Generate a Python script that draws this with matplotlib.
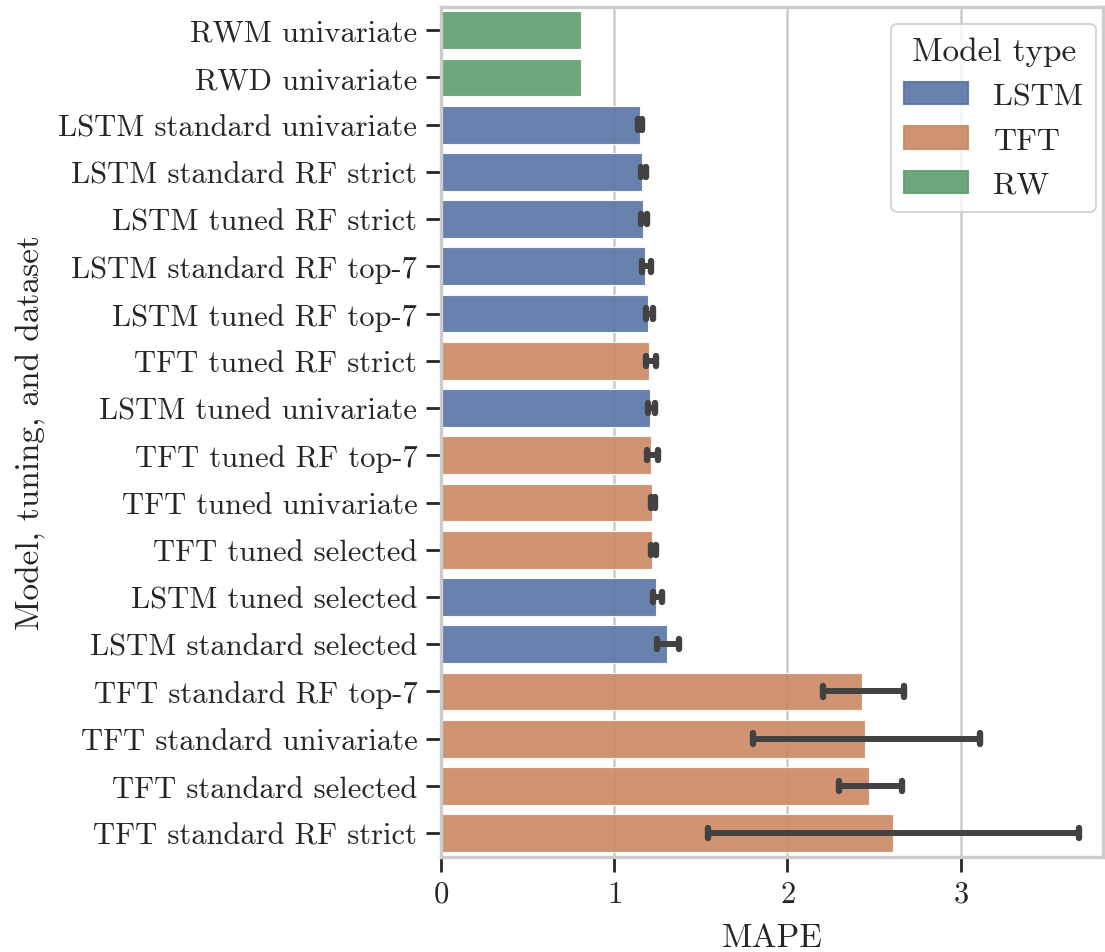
import numpy as np
import matplotlib
matplotlib.use("Agg")
import matplotlib.pyplot as plt
import seaborn as sns

labels = ["RWM univariate", "RWD univariate", "LSTM standard univariate",
          "LSTM standard RF strict", "LSTM tuned RF strict", "LSTM standard RF top-7",
          "LSTM tuned RF top-7", "TFT tuned RF strict", "LSTM tuned univariate",
          "TFT tuned RF top-7", "TFT tuned univariate", "TFT tuned selected",
          "LSTM tuned selected", "LSTM standard selected", "TFT standard RF top-7",
          "TFT standard univariate", "TFT standard selected", "TFT standard RF strict"]
model_type = ["RW", "RW", "LSTM", "LSTM", "LSTM", "LSTM", "LSTM", "TFT", "LSTM",
              "TFT", "TFT", "TFT", "LSTM", "LSTM", "TFT", "TFT", "TFT", "TFT"]
mape = [0.806, 0.806, 1.148, 1.161, 1.165, 1.178, 1.194, 1.203, 1.207,
        1.213, 1.217, 1.219, 1.242, 1.305, 2.432, 2.449, 2.469, 2.608]
ci_low = [np.nan, np.nan, 1.140, 1.153, 1.153, 1.161, 1.183, 1.185, 1.195,
          1.190, 1.215, 1.210, 1.223, 1.248, 2.203, 1.799, 2.295, 1.543]
ci_high = [np.nan, np.nan, 1.163, 1.184, 1.192, 1.213, 1.223, 1.242, 1.236,
           1.253, 1.235, 1.244, 1.275, 1.377, 2.675, 3.112, 2.660, 3.685]
hue_order = ["LSTM", "TFT", "RW"]

sns.set_theme(style="whitegrid", context="talk")
plt.rcParams.update({
    "font.family": "serif",
    "font.serif": ["cmr10", "DejaVu Serif"],
    "mathtext.fontset": "cm",
    "axes.formatter.use_mathtext": True,
    "axes.unicode_minus": False,
    "xtick.bottom": True,
    "ytick.left": True,
})

pal = dict(zip(hue_order, sns.color_palette("deep", 3, desat=0.75)))

fig, ax = plt.subplots(figsize=(11.05, 9.53), dpi=100)
y = np.arange(len(labels))
ax.barh(y, mape, height=0.8, color=[pal[m] for m in model_type], alpha=0.9,
        edgecolor="white", linewidth=0.8, zorder=2)

# confidence intervals with rounded caps
ecol = "#424242"
for yi, lo, hi in zip(y, ci_low, ci_high):
    if np.isnan(lo):
        continue
    ax.plot([lo, hi], [yi, yi], color=ecol, lw=4.3, solid_capstyle="round", zorder=3)
    for xc in (lo, hi):
        ax.plot([xc, xc], [yi - 0.11, yi + 0.11], color=ecol, lw=4.6,
                solid_capstyle="round", zorder=3)

ax.set_yticks(y)
ax.set_yticklabels(labels)
ax.set_ylim(len(labels) - 0.5, -0.5)
ax.set_xlim(0, 3.82)
ax.set_xticks([0, 1, 2, 3])
ax.grid(axis="y", visible=False)
ax.grid(axis="x", color="#cccccc", lw=1.8, zorder=0)
ax.set_axisbelow(True)
for s in ax.spines.values():
    s.set_color("#cccccc")
    s.set_linewidth(2.4)
ax.tick_params(axis="both", labelsize=22, length=11, width=2, pad=6, color="#262626")
ax.set_xlabel("MAPE", fontsize=24, labelpad=11)
ax.set_ylabel("Model, tuning, and dataset", fontsize=24, labelpad=10)

handles = [plt.Rectangle((0, 0), 1, 1, color=pal[h], alpha=0.9) for h in hue_order]
leg = ax.legend(handles, hue_order, title="Model type", loc="upper right",
                bbox_to_anchor=(0.99, 0.98), borderaxespad=0,
                fontsize=23, title_fontsize=24, frameon=True)
leg.get_frame().set_edgecolor("#cccccc")

fig.subplots_adjust(left=0.399, right=0.998, top=0.992, bottom=0.1)
fig.savefig("out.png", dpi=100)
